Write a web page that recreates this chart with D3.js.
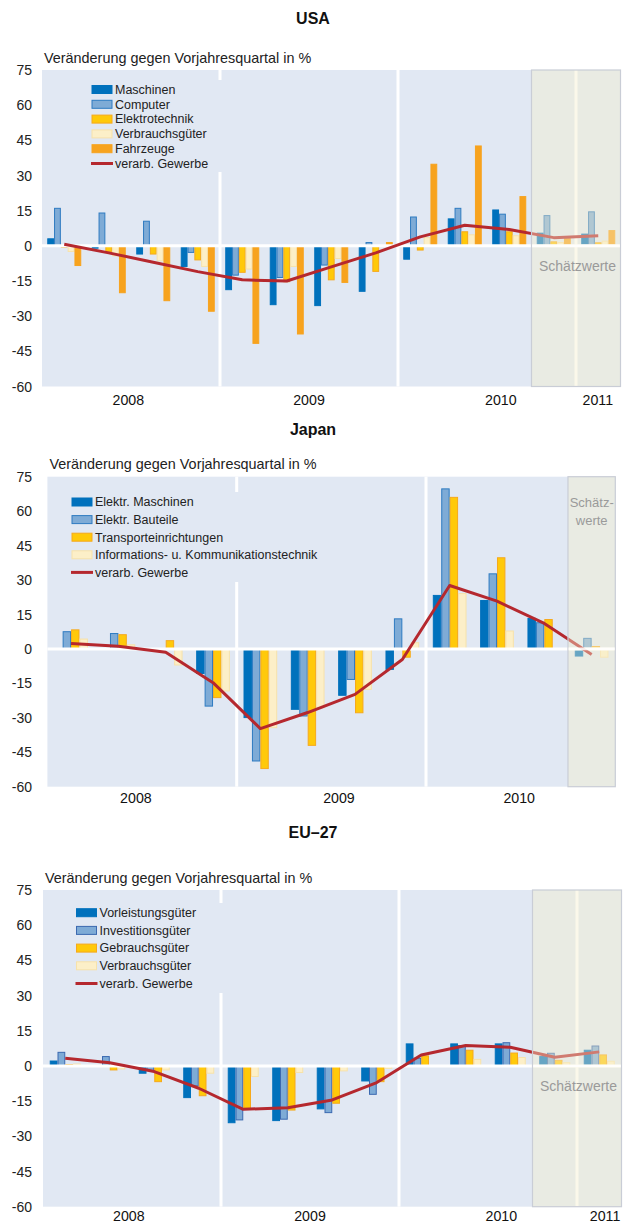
<!DOCTYPE html>
<html><head><meta charset="utf-8">
<script src="https://cdn.jsdelivr.net/npm/d3@7"></script>
<style>
body{margin:0;background:#fff;}
svg{display:block;font-family:"Liberation Sans",Arial,sans-serif;}
</style>
</head><body>
<svg id="c" width="625" height="1224"></svg>
<script>
// ---------- DATA ----------
const yTicks = [75, 60, 45, 30, 15, 0, -15, -30, -45, -60];
const quarters13 = ["2008Q1","2008Q2","2008Q3","2008Q4","2009Q1","2009Q2","2009Q3","2009Q4","2010Q1","2010Q2","2010Q3","2010Q4","2011Q1"];
const quarters12 = quarters13.slice(0, 12);

// USA
const usaMaschinen    = [3, -1, -3.5, -8.8, -18.7, -25.1, -25.5, -19.4, -5.7, 11.5, 15.3, 5.4, 5];
const usaComputer     = [16, 14, 10.5, -2.8, -12.5, -13.5, -8.2, 1.4, 12.3, 16, 13.5, 12.9, 14.5];
const usaElektro      = [-0.5, -2.4, -3.5, -6, -11.3, -15.3, -14.5, -10.9, -1.8, 6, 6, 1.7, 1.3];
const usaVerbrauch    = [-2.4, -4.3, -6.4, -8.8, -9.9, -8.8, -5.4, 0, 3.5, 4.7, 4.3, 1.4, 2];
const usaFahrzeuge    = [-8.4, -20, -23.4, -27.9, -41.6, -37.6, -15.6, 1.4, 34.8, 42.6, 21, 3.1, 6.5];
const usaGewerbe      = [0.7, -3, -7, -11, -14.5, -15, -9, -3, 3.8, 8.8, 7, 3.5, 4.3];
const usaYearLabels   = ["2008", "2009", "2010", "2011"];
const usaYearPos      = [1.94, 6.0, 10.31, 12.49];   // in quarter units

// Japan
const jpMaschinen     = [0, 0, 0, -10.7, -29.9, -26.3, -20.2, -8.9, 23.3, 21.1, 13.3, -3.1];
const jpBauteile      = [7.5, 6.7, 0, -24.9, -48.8, -29.2, -13.3, 13.1, 69.7, 32.7, 11.4, 4.6];
const jpTransport     = [8.3, 6.2, 3.6, -21.2, -52.1, -42, -27.8, -3.6, 66, 39.7, 12.8, 1];
const jpIKT           = [4.3, 1.8, -7, -18.3, -34.3, -25.6, -17.6, 2.7, 24.1, 7.8, 0, -3.6];
const jpGewerbe       = [2.4, 1.2, -1.4, -14.7, -34.7, -27.7, -19.8, -4.6, 27.6, 20.8, 11.1, -2.4];
const jpYearLabels    = ["2008", "2009", "2010"];
const jpYearPos       = [1.87, 6.16, 9.97];

// EU-27
const euVorleistung   = [2.1, 0, -3.1, -13.5, -24.2, -23.3, -18.3, -6.4, 9.4, 9.4, 9.4, 4, 6.7];
const euInvestition   = [5.8, 4, -2, -8.5, -23, -22.7, -19.9, -12.1, 3.3, 8.7, 9.9, 5.4, 8.5];
const euGebrauch      = [0.5, -1.7, -6.7, -12.7, -18.5, -18.8, -15.9, -6.7, 4.3, 6.7, 5.5, 2.4, 4.7];
const euVerbrauch     = [0.8, -1.3, -1.7, -3.1, -4.5, -2.8, -2.1, -1, 0, 2.8, 3.6, 1.4, 2];
const euGewerbe       = [3.3, 1.4, -2.4, -9.5, -18.5, -17.8, -14.5, -7.1, 4.7, 8.7, 8, 3.7, 6];
const euYearLabels    = ["2008", "2009", "2010", "2011"];
const euYearPos       = [1.93, 6.0, 10.3, 12.63];

// ---------- STYLES ----------
const C = {
  blue:   {fill: "#0071bc", stroke: "#0071bc"},
  lblue:  {fill: "#7eabd6", stroke: "#2e7bc1"},
  lblue2: {fill: "#7eabd6", stroke: "#3b69b0"},
  yellow: {fill: "#ffc90a", stroke: "#f6a91c"},
  cream:  {fill: "#fcefc8", stroke: "#f7e2aa"},
  orange: {fill: "#f7a31e", stroke: "#f7a31e"}
};
const lineColor = "#b5282e";
const plotBg = "#e1e8f3";

const svg = d3.select("#c");

function drawChart(cfg) {
  const g = svg.append("g");
  const x = d3.scaleBand().domain(cfg.quarters).range([cfg.left, cfg.right]);
  const qw = x.bandwidth();
  const y = d3.scaleLinear().domain([-60, 75]).range([cfg.bottom, cfg.top]);
  const sub = d3.scaleBand().domain(cfg.series.map(s => s.name))
    .range([(qw - cfg.groupW) / 2, (qw + cfg.groupW) / 2]);
  const qpos = d3.scaleLinear().domain([0, cfg.quarters.length]).range([cfg.left, cfg.right]);

  // title & subtitle
  g.append("text").attr("x", 313).attr("y", cfg.titleY).attr("text-anchor", "middle")
    .attr("font-weight", "bold").attr("font-size", 16).attr("fill", "#111").text(cfg.title);
  g.append("text").attr("x", cfg.left + 2).attr("y", cfg.top - 7.5)
    .attr("font-size", 14.4).attr("fill", "#222").text("Veränderung gegen Vorjahresquartal in %");

  // plot background
  g.append("rect").attr("x", cfg.left).attr("y", cfg.top)
    .attr("width", cfg.right - cfg.left).attr("height", cfg.bottom - cfg.top).attr("fill", plotBg);

  // y tick labels
  g.selectAll(".yt").data(yTicks).join("text")
    .attr("x", 32).attr("y", d => y(d)).attr("dy", "0.36em").attr("text-anchor", "end")
    .attr("font-size", 14).attr("fill", "#222").text(d => d);

  // year separators
  const seps = cfg.quarters.filter((q, i) => i > 0 && q.endsWith("Q1"));
  g.selectAll(".sep").data(seps).join("rect")
    .attr("x", d => x(d) - 1.5).attr("y", cfg.top).attr("width", 3)
    .attr("height", cfg.bottom - cfg.top).attr("fill", "#fff");

  // legend background box (covers separators)
  g.append("rect").attr("x", cfg.left + 3).attr("y", cfg.legBox[0])
    .attr("width", cfg.legBox[2] - cfg.left - 3).attr("height", cfg.legBox[1] - cfg.legBox[0])
    .attr("fill", plotBg);

  // bars
  cfg.series.forEach(s => {
    g.append("g").selectAll("rect").data(s.values).join("rect")
      .attr("x", (d, i) => x(cfg.quarters[i]) + sub(s.name) + 0.5)
      .attr("width", sub.bandwidth() - 1)
      .attr("y", d => Math.min(y(d), y(0)))
      .attr("height", d => Math.abs(y(d) - y(0)))
      .attr("fill", s.style.fill).attr("stroke", s.style.stroke).attr("stroke-width", 1);
  });

  // zero line
  g.append("line").attr("x1", cfg.left).attr("x2", cfg.right).attr("y1", y(0)).attr("y2", y(0))
    .attr("stroke", "#fff").attr("stroke-width", 3);

  // total line
  const line = d3.line().x((d, i) => x(cfg.quarters[i]) + qw / 2).y(d => y(d));
  g.append("path").datum(cfg.total).attr("d", line).attr("fill", "none")
    .attr("stroke", lineColor).attr("stroke-width", 3).attr("stroke-linejoin", "round");

  // estimate overlay
  const ex0 = x(cfg.quarters[cfg.estStart]);
  g.append("rect").attr("x", ex0).attr("y", cfg.top).attr("width", cfg.right - ex0)
    .attr("height", cfg.bottom - cfg.top).attr("fill", "rgb(245,238,205)").attr("fill-opacity", 0.42)
    .attr("stroke", "#c9cdd6").attr("stroke-width", 1.2);
  g.append("line").attr("x1", ex0 + 0.6).attr("x2", cfg.right - 0.6).attr("y1", y(0)).attr("y2", y(0))
    .attr("stroke", "#fff").attr("stroke-width", 2.6).attr("stroke-opacity", 0.85);
  cfg.estText.forEach((t, i) => {
    g.append("text").attr("x", cfg.estTextX).attr("y", cfg.estTextY + i * cfg.estTextDy)
      .attr("text-anchor", "middle").attr("font-size", cfg.estFont).attr("fill", "#9a9a9a").text(t);
  });

  // legend
  const lg = g.append("g");
  cfg.series.forEach((s, i) => {
    const ly = cfg.legY + i * cfg.legDy;
    lg.append("rect").attr("x", cfg.legX).attr("y", ly - 4).attr("width", 20).attr("height", 8)
      .attr("fill", s.style.fill).attr("stroke", s.style.stroke);
    lg.append("text").attr("x", cfg.legX + 23).attr("y", ly).attr("dy", "0.35em")
      .attr("font-size", 12.5).attr("fill", "#222").text(s.name);
  });
  const ly = cfg.legY + cfg.series.length * cfg.legDy;
  lg.append("line").attr("x1", cfg.legX - 1).attr("x2", cfg.legX + 21).attr("y1", ly).attr("y2", ly)
    .attr("stroke", lineColor).attr("stroke-width", 3);
  lg.append("text").attr("x", cfg.legX + 23).attr("y", ly).attr("dy", "0.35em")
    .attr("font-size", 12.5).attr("fill", "#222").text("verarb. Gewerbe");

  // year labels
  g.selectAll(".yl").data(cfg.yearLabels).join("text")
    .attr("x", (d, i) => qpos(cfg.yearPos[i])).attr("y", cfg.bottom + cfg.yearDy)
    .attr("text-anchor", "middle").attr("font-size", 14.2).attr("fill", "#111").text(d => d);
}

drawChart({
  title: "USA", titleY: 24,
  quarters: quarters13, left: 42, right: 620.5, top: 70, bottom: 386.5, groupW: 34,
  series: [
    {name: "Maschinen", values: usaMaschinen, style: C.blue},
    {name: "Computer", values: usaComputer, style: C.lblue},
    {name: "Elektrotechnik", values: usaElektro, style: C.yellow},
    {name: "Verbrauchsgüter", values: usaVerbrauch, style: C.cream},
    {name: "Fahrzeuge", values: usaFahrzeuge, style: C.orange}
  ],
  total: usaGewerbe, estStart: 11,
  estText: ["Schätzwerte"], estTextX: 577.5, estTextY: 271, estTextDy: 0, estFont: 14,
  legX: 92, legY: 89.5, legDy: 14.8, legBox: [80, 172, 224],
  yearLabels: usaYearLabels, yearPos: usaYearPos, yearDy: 18.5
});

drawChart({
  title: "Japan", titleY: 435,
  quarters: quarters12, left: 47.4, right: 615.3, top: 476.7, bottom: 786.7, groupW: 33.7,
  series: [
    {name: "Elektr. Maschinen", values: jpMaschinen, style: C.blue},
    {name: "Elektr. Bauteile", values: jpBauteile, style: C.lblue},
    {name: "Transporteinrichtungen", values: jpTransport, style: C.yellow},
    {name: "Informations- u. Kommunikationstechnik", values: jpIKT, style: C.cream}
  ],
  total: jpGewerbe, estStart: 11,
  estText: ["Schätz-", "werte"], estTextX: 591.7, estTextY: 507, estTextDy: 17.5, estFont: 13,
  legX: 72, legY: 502, legDy: 17.6, legBox: [492, 582, 322],
  yearLabels: jpYearLabels, yearPos: jpYearPos, yearDy: 16
});

drawChart({
  title: "EU–27", titleY: 838,
  quarters: quarters13, left: 43, right: 621.5, top: 890, bottom: 1206.7, groupW: 31,
  series: [
    {name: "Vorleistungsgüter", values: euVorleistung, style: C.blue},
    {name: "Investitionsgüter", values: euInvestition, style: C.lblue2},
    {name: "Gebrauchsgüter", values: euGebrauch, style: C.yellow},
    {name: "Verbrauchsgüter", values: euVerbrauch, style: C.cream}
  ],
  total: euGewerbe, estStart: 11,
  estText: ["Schätzwerte"], estTextX: 578.5, estTextY: 1091, estTextDy: 0, estFont: 14,
  legX: 76.5, legY: 912.7, legDy: 17.7, legBox: [903, 993, 226],
  yearLabels: euYearLabels, yearPos: euYearPos, yearDy: 14.3
});
</script>
</body></html>
